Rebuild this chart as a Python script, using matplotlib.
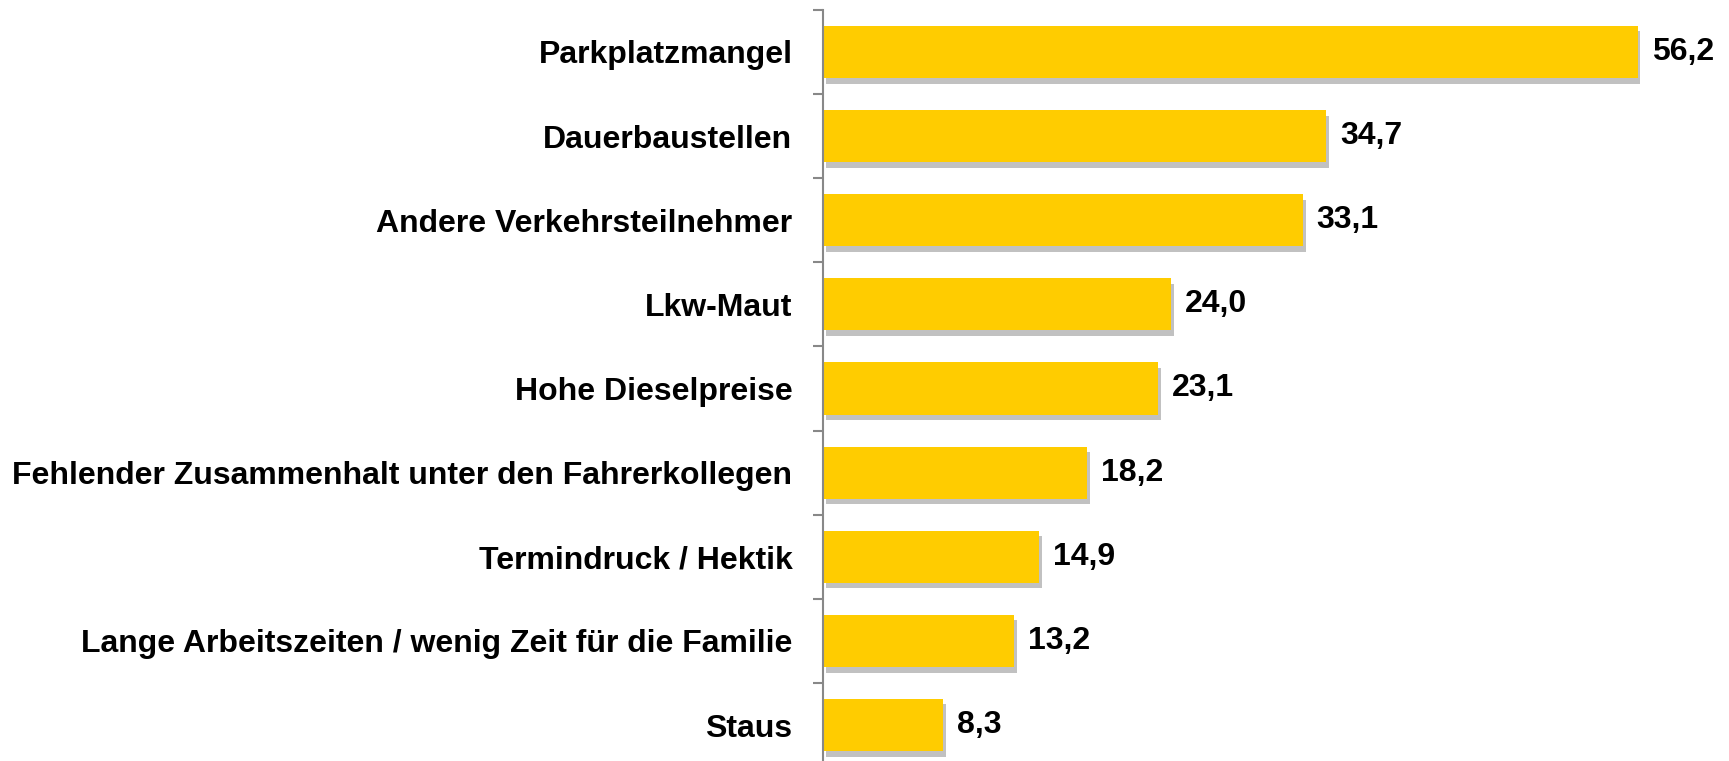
import matplotlib.pyplot as plt
import matplotlib.patheffects as pe

kategorien = [
    "Parkplatzmangel",
    "Dauerbaustellen",
    "Andere Verkehrsteilnehmer",
    "Lkw-Maut",
    "Hohe Dieselpreise",
    "Fehlender Zusammenhalt unter den Fahrerkollegen",
    "Termindruck / Hektik",
    "Lange Arbeitszeiten / wenig Zeit für die Familie",
    "Staus",
]
werte = [56.2, 34.7, 33.1, 24.0, 23.1, 18.2, 14.9, 13.2, 8.3]

plt.rcParams["font.family"] = ["Liberation Sans", "DejaVu Sans"]

fig = plt.figure(figsize=(17.29, 7.61), dpi=100)
ax = fig.add_axes([823 / 1729, -0.008, 1 - 823 / 1729, 0.995])

pos = list(range(len(kategorien)))
schatten = [pe.SimplePatchShadow(offset=(2, -4), shadow_rgbFace="#777777", alpha=0.45), pe.Normal()]
balken = ax.barh(pos, werte, height=0.62, color="#FFCC00", linewidth=0)
for b in balken:
    b.set_path_effects(schatten)

for p, w in zip(pos, werte):
    ax.annotate(f"{w:.1f}".replace(".", ","), (w, p), xytext=(10, 0),
                textcoords="offset points", va="center", ha="left",
                fontsize=23, fontweight="bold")

ax.set_xlim(0, 62.5)
ax.set_ylim(len(kategorien) - 0.5, -0.5)
ax.set_yticks(pos)
ax.set_yticklabels(kategorien, fontsize=23, fontweight="bold")
ax.set_yticks([i - 0.5 for i in range(len(kategorien) + 1)], minor=True)
ax.tick_params(axis="y", which="major", length=0, pad=22)
ax.tick_params(axis="y", which="minor", length=7, width=1.5, color="#888888")
ax.set_xticks([])
for s in ["top", "right", "bottom"]:
    ax.spines[s].set_visible(False)
ax.spines["left"].set_color("#888888")
ax.spines["left"].set_linewidth(1.5)

fig.savefig("out.png", dpi=100, facecolor="white")
